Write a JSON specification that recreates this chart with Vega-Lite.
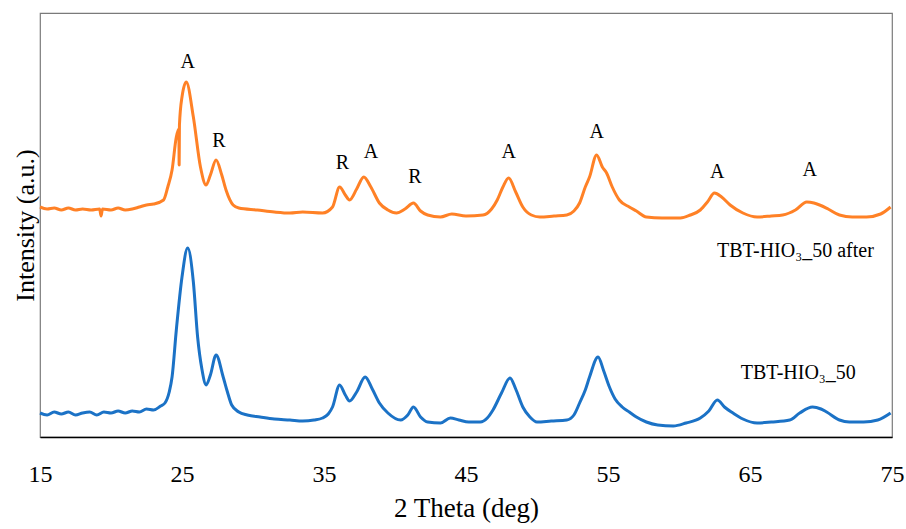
{
  "$schema": "https://vega.github.io/schema/vega-lite/v6.json",
  "width": 852,
  "height": 424,
  "autosize": {"type": "none"},
  "padding": {"left": 40, "top": 13, "right": 14, "bottom": 92},
  "background": "white",
  "config": {
    "font": "Liberation Serif",
    "axis": {"labelFont": "Liberation Serif", "titleFont": "Liberation Serif"},
    "text": {"font": "Liberation Serif"},
    "view": {"stroke": "#7a7a7a", "strokeWidth": 1.2}
  },
  "datasets": {
    "xrd": [
      {"x": 15.0, "y": 24, "s": "blue"}, {"x": 15.5, "y": 22, "s": "blue"}, {"x": 16.0, "y": 25, "s": "blue"}, {"x": 16.5, "y": 23, "s": "blue"},
      {"x": 17.0, "y": 25, "s": "blue"}, {"x": 17.5, "y": 22, "s": "blue"}, {"x": 18.0, "y": 24, "s": "blue"}, {"x": 18.5, "y": 25, "s": "blue"},
      {"x": 19.0, "y": 22, "s": "blue"}, {"x": 19.5, "y": 25, "s": "blue"}, {"x": 20.0, "y": 24, "s": "blue"}, {"x": 20.5, "y": 26, "s": "blue"},
      {"x": 21.0, "y": 24, "s": "blue"}, {"x": 21.5, "y": 26, "s": "blue"}, {"x": 22.0, "y": 25, "s": "blue"}, {"x": 22.5, "y": 28, "s": "blue"},
      {"x": 23.0, "y": 27, "s": "blue"}, {"x": 23.5, "y": 31, "s": "blue"}, {"x": 23.8, "y": 34, "s": "blue"}, {"x": 24.1, "y": 45, "s": "blue"},
      {"x": 24.3, "y": 60, "s": "blue"}, {"x": 24.6, "y": 107, "s": "blue"}, {"x": 25.0, "y": 160, "s": "blue"}, {"x": 25.4, "y": 189, "s": "blue"},
      {"x": 25.8, "y": 155, "s": "blue"}, {"x": 26.1, "y": 100, "s": "blue"}, {"x": 26.4, "y": 68, "s": "blue"}, {"x": 26.7, "y": 52, "s": "blue"},
      {"x": 27.0, "y": 62, "s": "blue"}, {"x": 27.4, "y": 82, "s": "blue"}, {"x": 27.9, "y": 60, "s": "blue"}, {"x": 28.2, "y": 45, "s": "blue"},
      {"x": 28.5, "y": 32, "s": "blue"}, {"x": 29.0, "y": 25, "s": "blue"}, {"x": 29.6, "y": 22, "s": "blue"}, {"x": 30.5, "y": 20, "s": "blue"},
      {"x": 31.5, "y": 18, "s": "blue"}, {"x": 32.6, "y": 17, "s": "blue"}, {"x": 33.5, "y": 16, "s": "blue"}, {"x": 34.3, "y": 17, "s": "blue"},
      {"x": 34.9, "y": 19, "s": "blue"}, {"x": 35.3, "y": 23, "s": "blue"}, {"x": 35.6, "y": 30, "s": "blue"}, {"x": 36.1, "y": 52, "s": "blue"},
      {"x": 36.5, "y": 42, "s": "blue"}, {"x": 36.8, "y": 36, "s": "blue"}, {"x": 37.3, "y": 45, "s": "blue"}, {"x": 37.9, "y": 60, "s": "blue"},
      {"x": 38.4, "y": 48, "s": "blue"}, {"x": 38.9, "y": 34, "s": "blue"}, {"x": 39.5, "y": 24, "s": "blue"}, {"x": 40.4, "y": 17, "s": "blue"},
      {"x": 40.9, "y": 22, "s": "blue"}, {"x": 41.3, "y": 30, "s": "blue"}, {"x": 41.8, "y": 20, "s": "blue"}, {"x": 42.3, "y": 15, "s": "blue"},
      {"x": 43.2, "y": 14, "s": "blue"}, {"x": 43.9, "y": 19, "s": "blue"}, {"x": 44.5, "y": 17, "s": "blue"}, {"x": 45.2, "y": 15, "s": "blue"},
      {"x": 46.0, "y": 15, "s": "blue"}, {"x": 46.5, "y": 19, "s": "blue"}, {"x": 46.9, "y": 27, "s": "blue"}, {"x": 47.5, "y": 44, "s": "blue"},
      {"x": 48.1, "y": 59, "s": "blue"}, {"x": 48.5, "y": 48, "s": "blue"}, {"x": 49.0, "y": 30, "s": "blue"}, {"x": 49.5, "y": 20, "s": "blue"},
      {"x": 50.0, "y": 15, "s": "blue"}, {"x": 51.0, "y": 16, "s": "blue"}, {"x": 52.1, "y": 17, "s": "blue"}, {"x": 52.6, "y": 22, "s": "blue"},
      {"x": 53.0, "y": 34, "s": "blue"}, {"x": 53.4, "y": 47, "s": "blue"}, {"x": 53.7, "y": 60, "s": "blue"}, {"x": 54.3, "y": 80, "s": "blue"},
      {"x": 54.7, "y": 66, "s": "blue"}, {"x": 55.1, "y": 50, "s": "blue"}, {"x": 55.5, "y": 38, "s": "blue"}, {"x": 56.0, "y": 30, "s": "blue"},
      {"x": 56.5, "y": 25, "s": "blue"}, {"x": 57.0, "y": 20, "s": "blue"}, {"x": 57.7, "y": 15, "s": "blue"}, {"x": 58.5, "y": 12, "s": "blue"},
      {"x": 59.6, "y": 11, "s": "blue"}, {"x": 60.5, "y": 14, "s": "blue"}, {"x": 61.5, "y": 19, "s": "blue"}, {"x": 62.1, "y": 26, "s": "blue"},
      {"x": 62.7, "y": 37, "s": "blue"}, {"x": 63.2, "y": 30, "s": "blue"}, {"x": 63.8, "y": 24, "s": "blue"}, {"x": 64.5, "y": 18, "s": "blue"},
      {"x": 65.5, "y": 14, "s": "blue"}, {"x": 66.5, "y": 15, "s": "blue"}, {"x": 67.8, "y": 17, "s": "blue"}, {"x": 68.5, "y": 24, "s": "blue"},
      {"x": 69.4, "y": 30, "s": "blue"}, {"x": 70.0, "y": 28, "s": "blue"}, {"x": 70.4, "y": 25, "s": "blue"}, {"x": 71.3, "y": 17, "s": "blue"},
      {"x": 72.0, "y": 15, "s": "blue"}, {"x": 73.0, "y": 15, "s": "blue"}, {"x": 74.0, "y": 17, "s": "blue"}, {"x": 74.9, "y": 24, "s": "blue"},

      {"x": 15.0, "y": 230, "s": "orange"}, {"x": 15.5, "y": 228, "s": "orange"}, {"x": 16.0, "y": 229, "s": "orange"}, {"x": 16.5, "y": 227, "s": "orange"},
      {"x": 17.0, "y": 229, "s": "orange"}, {"x": 17.5, "y": 227, "s": "orange"}, {"x": 18.0, "y": 228, "s": "orange"}, {"x": 18.6, "y": 227, "s": "orange"},
      {"x": 19.2, "y": 228, "s": "orange"}, {"x": 19.3, "y": 221, "s": "orange"}, {"x": 19.4, "y": 228, "s": "orange"}, {"x": 20.0, "y": 227, "s": "orange"}, {"x": 20.5, "y": 229, "s": "orange"},
      {"x": 21.0, "y": 227, "s": "orange"}, {"x": 21.5, "y": 228, "s": "orange"}, {"x": 22.0, "y": 230, "s": "orange"}, {"x": 22.5, "y": 232, "s": "orange"},
      {"x": 23.0, "y": 233, "s": "orange"}, {"x": 23.7, "y": 237, "s": "orange"}, {"x": 24.0, "y": 250, "s": "orange"}, {"x": 24.3, "y": 267, "s": "orange"},
      {"x": 24.6, "y": 300, "s": "orange"}, {"x": 24.78, "y": 308, "s": "orange"}, {"x": 24.8, "y": 272, "s": "orange"}, {"x": 24.82, "y": 312, "s": "orange"},
      {"x": 25.0, "y": 340, "s": "orange"}, {"x": 25.3, "y": 355, "s": "orange"}, {"x": 25.8, "y": 320, "s": "orange"}, {"x": 26.3, "y": 270, "s": "orange"},
      {"x": 26.7, "y": 252, "s": "orange"}, {"x": 27.0, "y": 262, "s": "orange"}, {"x": 27.4, "y": 277, "s": "orange"}, {"x": 27.8, "y": 262, "s": "orange"},
      {"x": 28.1, "y": 247, "s": "orange"}, {"x": 28.6, "y": 232, "s": "orange"}, {"x": 29.0, "y": 229, "s": "orange"}, {"x": 30.3, "y": 227, "s": "orange"},
      {"x": 31.5, "y": 225, "s": "orange"}, {"x": 32.6, "y": 224, "s": "orange"}, {"x": 33.5, "y": 225, "s": "orange"}, {"x": 34.9, "y": 224, "s": "orange"},
      {"x": 35.6, "y": 230, "s": "orange"}, {"x": 36.1, "y": 250, "s": "orange"}, {"x": 36.5, "y": 242, "s": "orange"}, {"x": 36.8, "y": 237, "s": "orange"},
      {"x": 37.3, "y": 248, "s": "orange"}, {"x": 37.8, "y": 260, "s": "orange"}, {"x": 38.3, "y": 250, "s": "orange"}, {"x": 38.9, "y": 234, "s": "orange"},
      {"x": 39.5, "y": 227, "s": "orange"}, {"x": 40.1, "y": 224, "s": "orange"}, {"x": 40.7, "y": 228, "s": "orange"}, {"x": 41.3, "y": 234, "s": "orange"},
      {"x": 41.8, "y": 226, "s": "orange"}, {"x": 42.3, "y": 222, "s": "orange"}, {"x": 43.2, "y": 220, "s": "orange"}, {"x": 44.0, "y": 223, "s": "orange"},
      {"x": 45.0, "y": 221, "s": "orange"}, {"x": 46.2, "y": 222, "s": "orange"}, {"x": 46.8, "y": 228, "s": "orange"}, {"x": 47.2, "y": 237, "s": "orange"},
      {"x": 47.6, "y": 250, "s": "orange"}, {"x": 48.0, "y": 259, "s": "orange"}, {"x": 48.5, "y": 245, "s": "orange"}, {"x": 49.0, "y": 230, "s": "orange"},
      {"x": 49.6, "y": 222, "s": "orange"}, {"x": 50.2, "y": 220, "s": "orange"}, {"x": 51.2, "y": 221, "s": "orange"}, {"x": 52.1, "y": 222, "s": "orange"},
      {"x": 52.6, "y": 226, "s": "orange"}, {"x": 53.0, "y": 234, "s": "orange"}, {"x": 53.4, "y": 250, "s": "orange"}, {"x": 53.7, "y": 260, "s": "orange"},
      {"x": 54.2, "y": 282, "s": "orange"}, {"x": 54.6, "y": 270, "s": "orange"}, {"x": 54.9, "y": 264, "s": "orange"}, {"x": 55.3, "y": 250, "s": "orange"},
      {"x": 55.8, "y": 237, "s": "orange"}, {"x": 56.5, "y": 230, "s": "orange"}, {"x": 57.0, "y": 226, "s": "orange"}, {"x": 57.7, "y": 220, "s": "orange"},
      {"x": 58.8, "y": 219, "s": "orange"}, {"x": 60.1, "y": 219, "s": "orange"}, {"x": 60.8, "y": 222, "s": "orange"}, {"x": 61.5, "y": 227, "s": "orange"},
      {"x": 62.0, "y": 235, "s": "orange"}, {"x": 62.5, "y": 244, "s": "orange"}, {"x": 63.0, "y": 240, "s": "orange"}, {"x": 63.6, "y": 232, "s": "orange"},
      {"x": 64.5, "y": 224, "s": "orange"}, {"x": 65.5, "y": 220, "s": "orange"}, {"x": 66.5, "y": 221, "s": "orange"}, {"x": 67.3, "y": 222, "s": "orange"},
      {"x": 68.2, "y": 227, "s": "orange"}, {"x": 69.0, "y": 235, "s": "orange"}, {"x": 69.5, "y": 234, "s": "orange"}, {"x": 69.9, "y": 232, "s": "orange"},
      {"x": 70.5, "y": 228, "s": "orange"}, {"x": 71.3, "y": 222, "s": "orange"}, {"x": 72.2, "y": 220, "s": "orange"}, {"x": 73.2, "y": 220, "s": "orange"},
      {"x": 74.2, "y": 223, "s": "orange"}, {"x": 74.9, "y": 230, "s": "orange"}
    ],
    "peaks": [
      {"x": 25.4, "y": 375, "t": "A"},
      {"x": 27.6, "y": 296, "t": "R"},
      {"x": 36.3, "y": 274, "t": "R"},
      {"x": 38.3, "y": 285, "t": "A"},
      {"x": 41.4, "y": 260, "t": "R"},
      {"x": 48.0, "y": 285, "t": "A"},
      {"x": 54.2, "y": 305, "t": "A"},
      {"x": 62.7, "y": 265, "t": "A"},
      {"x": 69.2, "y": 267, "t": "A"}
    ],
    "names": [
      {"x": 68.2, "y": 186, "t": "TBT-HIO₃_50 after"},
      {"x": 68.4, "y": 64, "t": "TBT-HIO₃_50"}
    ]
  },
  "layer": [
    {
      "data": {"name": "xrd"},
      "mark": {"type": "line", "strokeWidth": 3, "strokeJoin": "round", "interpolate": "monotone"},
      "encoding": {
        "x": {
          "field": "x", "type": "quantitative",
          "scale": {"domain": [15, 75], "nice": false, "zero": false},
          "axis": {
            "values": [15, 25, 35, 45, 55, 65, 75],
            "title": "2 Theta (deg)",
            "grid": false, "ticks": false,
            "domainColor": "black", "domainWidth": 1.5,
            "labelFontSize": 24, "labelColor": "black", "labelPadding": 25,
            "labelFlush": false,
            "titleFontSize": 27, "titleFontWeight": "normal", "titleColor": "black", "titlePadding": 9
          }
        },
        "y": {
          "field": "y", "type": "quantitative",
          "scale": {"domain": [0, 424], "nice": false},
          "axis": {
            "title": "Intensity (a.u.)",
            "labels": false, "ticks": false, "domain": false, "grid": false,
            "titleFontSize": 26, "titleFontWeight": "normal", "titleColor": "black", "titlePadding": 2
          }
        },
        "color": {
          "field": "s", "type": "nominal",
          "scale": {"domain": ["orange", "blue"], "range": ["#FF8126", "#1B72C6"]},
          "legend": null
        },
        "detail": {"field": "s"}
      }
    },
    {
      "data": {"name": "peaks"},
      "mark": {"type": "text", "font": "Liberation Serif", "fontSize": 20, "color": "black", "align": "center", "baseline": "middle"},
      "encoding": {
        "x": {"field": "x", "type": "quantitative"},
        "y": {"field": "y", "type": "quantitative"},
        "text": {"field": "t"}
      }
    },
    {
      "data": {"name": "names"},
      "mark": {"type": "text", "font": "Liberation Serif", "fontSize": 20, "color": "black", "align": "center", "baseline": "middle"},
      "encoding": {
        "x": {"field": "x", "type": "quantitative"},
        "y": {"field": "y", "type": "quantitative"},
        "text": {"field": "t"}
      }
    }
  ]
}
